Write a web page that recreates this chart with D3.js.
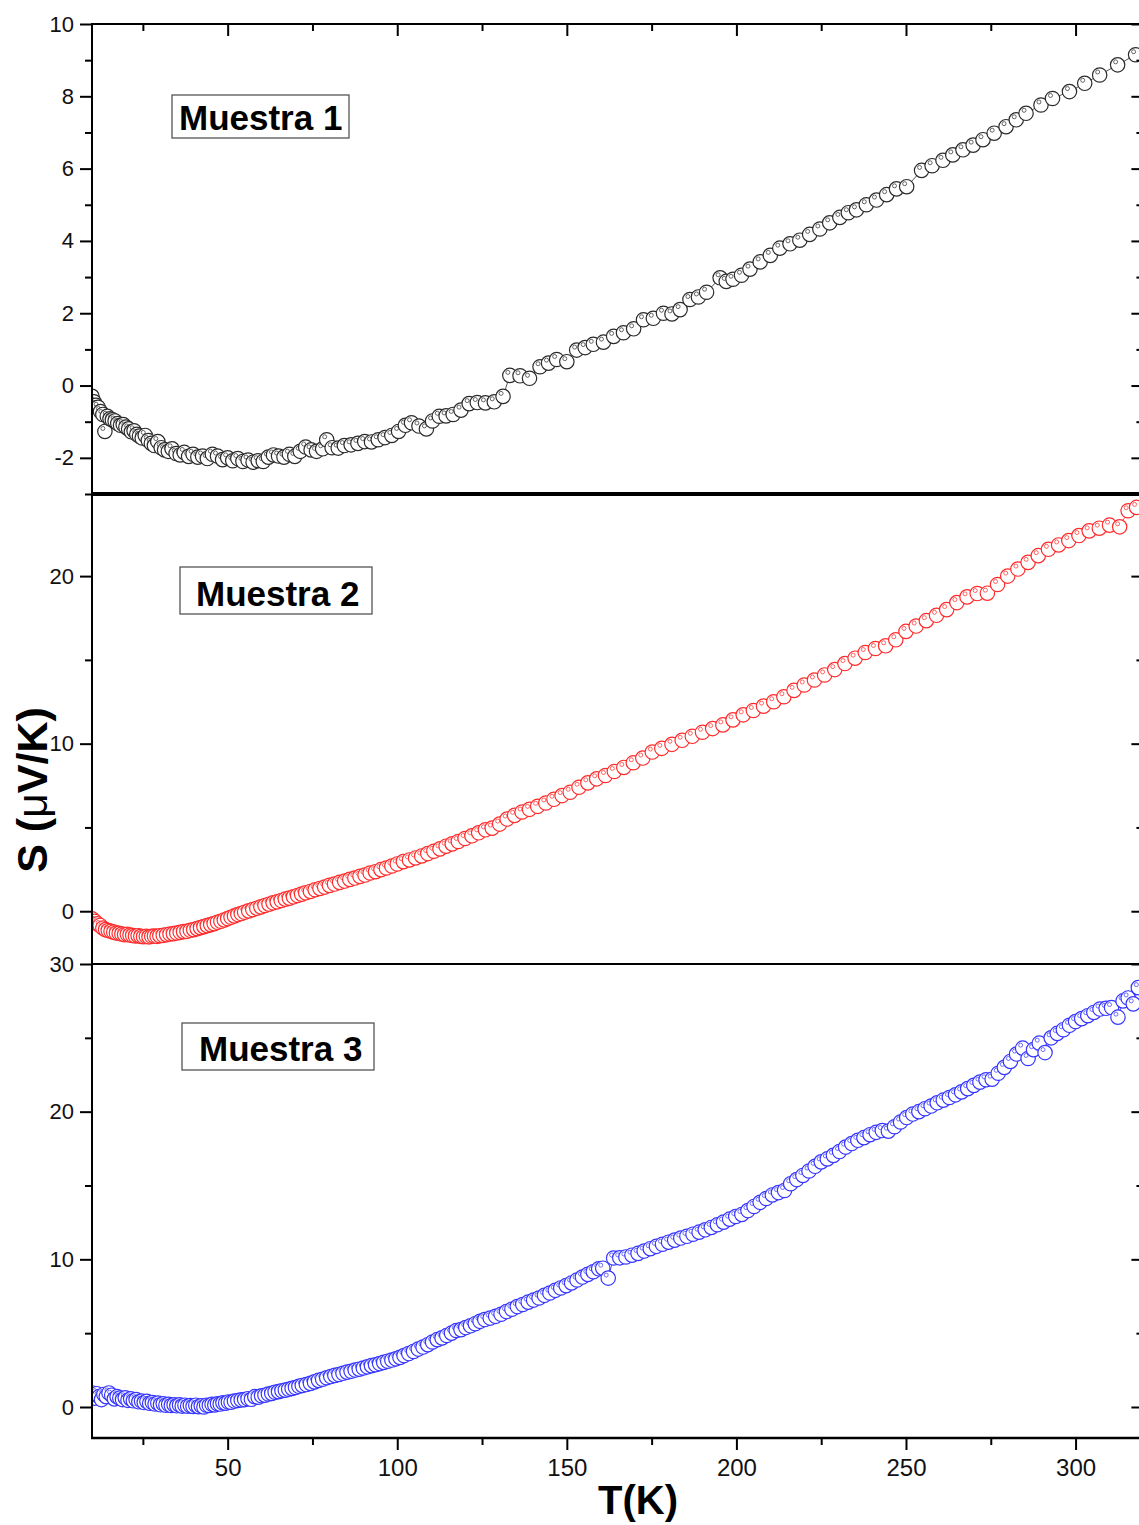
<!DOCTYPE html>
<meta charset="utf-8">
<style>
body { margin: 0; background: #fff; }
svg { display: block; }
text { font-family: "Liberation Sans", Arial, sans-serif; }
.axis path { display: none; }
.axis line { stroke: #000; stroke-width: 2px; }
.axis text { font-size: 22px; fill: #111; }
.frame { stroke: #000; fill: none; }
</style>
<body>
<script src="https://cdn.jsdelivr.net/npm/d3@7/dist/d3.min.js"></script>
<script>

// ---- data ----
var T1 = [10,10.6,11.2,11.8,12.5,13.2,13.8,14.5,15.3,16,16.8,17.6,18.4,19.2,20,20.8,21.6,22.4,23.2,24,
  24.8,25.7,26.6,27.5,28.4,29.4,30.4,31.4,32.5,33.6,34.8,36,37.2,38.5,39.8,41.2,42.6,44,45.5,47,
  48.5,50,51.5,53,54.5,56,57.5,59,60.5,62,63.5,65,66.6,68.2,69.8,71.4,73,74.6,76.2,78,
  79.2,80.8,82.6,84.4,86.4,88.4,90.4,92.4,94.4,96.4,98.4,100.4,102.4,104.2,106.4,108.6,110.4,112.4,114.4,116.5,
  118.8,121.2,123.6,126,128.6,131.2,
  133.2,136.2,139,142.1,144.6,147,150,152.9,155.4,157.8,160.8,163.8,166.7,169.7,172.6,175.5,178.5,181,183.4,186.3,
  188.8,191.2,195.2,197,199,201.5,204,207,210,212.8,215.8,218.7,221.6,224.6,227.5,230.5,233,235.4,238.3,241.3,
  244.3,247.2,250.2,254.6,257.7,260.9,263.8,266.8,269.8,272.7,276,279.5,282.5,285.4,289.8,293.2,298.2,302.7,307.1,312.4,
  317.7];
var S1 = [-0.3,-0.45,-0.55,-0.6,-0.72,-0.8,-1.27,-0.85,-0.92,-0.95,-0.98,-1.05,-1.1,-1.08,-1.15,-1.2,-1.28,-1.25,-1.35,-1.4,
  -1.45,-1.38,-1.52,-1.6,-1.66,-1.55,-1.72,-1.78,-1.82,-1.75,-1.88,-1.92,-1.85,-1.96,-1.9,-1.98,-1.95,-2.02,-1.9,-1.95,
  -2.05,-2.0,-2.08,-2.02,-2.1,-2.06,-2.12,-2.08,-2.1,-1.98,-1.92,-1.95,-1.98,-1.9,-1.96,-1.82,-1.7,-1.78,-1.82,-1.75,
  -1.5,-1.72,-1.73,-1.66,-1.64,-1.6,-1.55,-1.56,-1.5,-1.44,-1.38,-1.27,-1.1,-1.03,-1.12,-1.2,-0.98,-0.85,-0.84,-0.8,
  -0.68,-0.5,-0.47,-0.48,-0.45,-0.3,
  0.28,0.27,0.2,0.52,0.62,0.72,0.66,0.98,1.05,1.14,1.2,1.36,1.46,1.57,1.82,1.86,2.0,1.98,2.1,2.38,
  2.45,2.58,2.98,2.88,2.94,3.05,3.22,3.42,3.6,3.8,3.92,4.02,4.18,4.33,4.5,4.65,4.78,4.86,5.0,5.13,
  5.28,5.44,5.5,5.95,6.08,6.23,6.38,6.52,6.65,6.8,6.98,7.16,7.35,7.53,7.76,7.94,8.13,8.36,8.59,8.87,
  9.15];

var T2 = [10,10.8,11.6,12.4,13.2,14,14.8,15.6,16.4,17.2,18,18.8,19.6,20.4,21.2,22,22.8,23.6,24.4,25.2,
  26,26.8,27.6,28.4,29.2,30,31,32,33,34,35,36,37,38,39,40,41,42,43,44,
  45,46,47,48,49,50,51,52,53,54,55,56.2,57.4,58.6,59.8,61,62.2,63.4,64.6,65.8,
  67,68.2,69.4,70.6,71.8,73,74.4,75.8,77.2,78.6,80,81.5,83,84.5,86,87.5,89,90.5,92,93.6,
  95.2,96.8,98.4,100,101.8,103.6,105.4,107.2,109,110.8,112.6,114.4,116.2,118,120,122,124,126,128,130.2,
  132.4,134.6,136.8,139,141.4,143.8,146.2,148.6,151,153.6,156.2,158.8,161.4,164,166.8,169.6,172.4,175.2,178,181,
  184,187,190,193,196,199,202,205,208,211,214,217,220,223,226,229,232,235,238,241,
  244,247,250,253,256,259,262,265,268,271,274,277,280,283,286,289,292,295,298,301,
  304,307,310,313,315.5,318];
var S2 = [-0.45,-0.6,-0.75,-0.85,-1.0,-1.1,-1.15,-1.2,-1.25,-1.3,-1.32,-1.36,-1.4,-1.38,-1.42,-1.45,-1.48,-1.46,-1.5,-1.52,
  -1.5,-1.53,-1.5,-1.48,-1.5,-1.46,-1.44,-1.4,-1.36,-1.34,-1.3,-1.26,-1.22,-1.2,-1.14,-1.1,-1.04,-0.98,-0.92,-0.86,
  -0.8,-0.74,-0.66,-0.6,-0.52,-0.44,-0.36,-0.28,-0.2,-0.14,-0.06,0.02,0.1,0.18,0.26,0.34,0.42,0.5,0.56,0.64,
  0.72,0.78,0.86,0.94,1.02,1.1,1.18,1.28,1.36,1.44,1.54,1.62,1.72,1.8,1.9,1.98,2.08,2.16,2.28,2.36,
  2.48,2.58,2.7,2.82,2.96,3.06,3.18,3.3,3.44,3.58,3.72,3.88,4.02,4.16,4.34,4.5,4.68,4.86,4.96,5.2,
  5.5,5.72,5.92,6.08,6.26,6.46,6.68,6.9,7.1,7.4,7.66,7.9,8.1,8.34,8.58,8.86,9.14,9.5,9.72,9.96,
  10.2,10.44,10.68,10.9,11.12,11.42,11.72,11.98,12.24,12.5,12.8,13.18,13.5,13.8,14.1,14.42,14.78,15.1,15.44,15.68,
  15.84,16.2,16.7,17.02,17.34,17.66,18.0,18.42,18.76,18.96,18.98,19.5,20.0,20.42,20.82,21.22,21.6,21.86,22.12,22.42,
  22.7,22.86,23.04,22.94,23.9,24.1];

var T3 = [10,10.7,11.4,12.1,12.8,13.5,14.2,15,15.8,16.6,17.4,18.2,19,19.8,20.6,21.4,22.2,23,23.8,24.6,
  25.4,26.2,27,27.8,28.6,29.4,30.2,31,31.8,32.6,33.4,34.2,35,35.8,36.6,37.4,38.2,39,39.8,40.6,
  41.4,42.2,43,43.8,44.6,45.4,46.2,47,47.8,48.6,49.4,50.2,51,52,53,54,55,56,57,58,
  59,60,61,62,63,64,65,66,67,68,69,70,71,72,73.2,74.4,75.6,76.8,78,79.2,
  80.4,81.6,82.8,84,85.2,86.4,87.6,88.8,90,91.2,92.4,93.6,94.8,96,97.2,98.4,99.6,100.8,102,103.4,
  104.8,106.2,107.6,109,110.4,111.8,113.2,114.6,116,117.4,118.8,120.2,121.6,123,124.4,125.8,127.4,129,130.6,132.2,
  133.8,135.4,137,138.6,140.2,141.8,143.4,145,146.6,148.2,149.8,151.4,153,154.6,156.2,157.8,159.4,160.6,162.2,163.8,
  165.6,167.4,169.2,171,172.8,174.6,176.4,178.2,180,181.8,183.6,185.4,187.2,189,190.8,192.6,194.4,196.2,198,199.8,
  201.6,203.4,205.2,207,208.8,210.6,212.4,214.2,216,217.8,219.6,221.4,223.2,225,226.8,228.6,230.4,232.2,234,235.8,
  237.6,239.4,241.2,243,244.8,246.6,248.4,250.2,252,253.8,255.6,257.4,259.2,261,262.8,264.6,266.4,268.2,270,271.8,
  273.6,275.4,277.2,279,280.8,282.6,284.4,286,287.6,289.3,291,292.8,294.6,296.4,298.2,300,301.8,303.6,305.4,307.2,
  309,310.6,312.5,314,315.5,317,318.5];
var S3 = [0.95,0.6,0.9,0.7,0.5,0.85,0.7,0.95,0.8,0.55,0.7,0.6,0.5,0.62,0.45,0.55,0.42,0.5,0.35,0.4,
  0.3,0.38,0.25,0.3,0.2,0.26,0.15,0.22,0.12,0.18,0.1,0.15,0.08,0.14,0.06,0.12,0.05,0.1,0.04,0.12,
  0.02,0.08,0.0,0.12,0.1,0.18,0.14,0.22,0.2,0.28,0.26,0.34,0.32,0.4,0.44,0.48,0.5,0.56,0.52,0.7,
  0.66,0.76,0.8,0.88,0.92,1.0,1.04,1.1,1.14,1.2,1.26,1.32,1.4,1.46,1.52,1.6,1.7,1.8,1.88,1.98,
  2.06,2.14,2.2,2.28,2.36,2.42,2.5,2.56,2.64,2.72,2.8,2.86,2.94,3.02,3.1,3.18,3.26,3.36,3.48,3.62,
  3.76,3.92,4.06,4.22,4.4,4.56,4.68,4.84,5.0,5.18,5.24,5.38,5.5,5.64,5.8,5.92,6.02,6.14,6.28,6.46,
  6.62,6.8,6.94,7.1,7.24,7.38,7.56,7.72,7.9,8.06,8.22,8.4,8.6,8.8,8.98,9.16,9.36,9.4,8.73,10.09,
  10.1,10.16,10.28,10.4,10.56,10.72,10.88,11.02,11.16,11.3,11.44,11.56,11.7,11.84,12.0,12.16,12.34,12.52,12.72,12.9,
  13.04,13.3,13.58,13.86,14.12,14.36,14.52,14.66,15.12,15.4,15.68,15.98,16.3,16.6,16.8,17.04,17.3,17.6,17.84,18.06,
  18.24,18.44,18.6,18.72,18.68,18.98,19.3,19.6,19.84,20.0,20.2,20.38,20.6,20.78,20.96,21.14,21.34,21.56,21.78,22.0,
  22.16,22.2,22.6,23.0,23.4,23.9,24.3,23.6,24.2,24.64,24.0,25.0,25.3,25.55,25.85,26.1,26.3,26.5,26.72,26.95,
  27.0,27.05,26.4,27.5,27.7,27.3,28.4];

var sampleNames = ["Muestra 1", "Muestra 2", "Muestra 3"];
var xTicks = [50, 100, 150, 200, 250, 300];
var xMinor = [25, 75, 125, 175, 225, 275];
var y1Ticks = [-2, 0, 2, 4, 6, 8, 10], y1Minor = [-3, -1, 1, 3, 5, 7, 9];
var y2Ticks = [0, 10, 20], y2Minor = [5, 15];
var y3Ticks = [0, 10, 20, 30], y3Minor = [5, 15, 25];

// ---- layout ----
var W = 1139, H = 1525;
var left = 92, right = 1143.4;

var svg = d3.select("body").append("svg")
    .attr("width", W)
    .attr("height", H);

var x = d3.scaleLinear().domain([10, 320]).range([left, right]);

var panels = [
  {T: T1, S: S1, y: d3.scaleLinear().domain([-3, 10]).range([494, 24]),
   ticks: y1Ticks, minor: y1Minor, color: "#2a2a2a",
   box: [172, 95, 177, 43], tx: 179, ty: 130},
  {T: T2, S: S2, y: d3.scaleLinear().domain([-3.15, 24.9]).range([964, 494]),
   ticks: y2Ticks, minor: y2Minor, color: "#ff2a2a",
   box: [180, 567, 192, 47], tx: 196, ty: 606},
  {T: T3, S: S3, y: d3.scaleLinear().domain([-2.1, 30]).range([1438, 964]),
   ticks: y3Ticks, minor: y3Minor, color: "#3535ff",
   box: [182, 1023, 192, 47], tx: 199, ty: 1061}
];

panels.forEach(function(p, i) {
  var y = p.y;
  var pts = p.T.map(function(t, j) { return {t: t, s: p.S[j]}; });

  // clip to the panel
  var clipId = "clip" + i;
  svg.append("clipPath").attr("id", clipId)
    .append("rect")
      .attr("x", left).attr("y", y.range()[1])
      .attr("width", right - left).attr("height", y.range()[0] - y.range()[1]);

  var g = svg.append("g").attr("clip-path", "url(#" + clipId + ")");

  // thin connecting line (only visible in gaps)
  g.append("path")
      .datum(pts)
      .attr("fill", "none")
      .attr("stroke", p.color)
      .attr("stroke-width", 0.8)
      .attr("d", d3.line()
        .x(function(d) { return x(d.t); })
        .y(function(d) { return y(d.s); }));

  var m = g.selectAll(".pt").data(pts).enter().append("g")
      .attr("transform", function(d) { return "translate(" + x(d.t) + "," + y(d.s) + ")"; });
  m.append("circle")
      .attr("r", 7.2)
      .attr("fill", "#fff")
      .attr("stroke", p.color)
      .attr("stroke-width", 1.2);
  m.append("circle")
      .attr("cx", -2).attr("cy", -3)
      .attr("r", 2)
      .attr("fill", "none")
      .attr("stroke", p.color)
      .attr("stroke-width", 0.7);

  // left axis
  svg.append("g").attr("class", "axis")
      .attr("transform", "translate(" + left + ",0)")
      .call(d3.axisLeft(y).tickValues(p.ticks).tickSize(12).tickPadding(6)
        .tickFormat(function(d) { return String(d); }));
  svg.append("g").attr("class", "axis")
      .attr("transform", "translate(" + left + ",0)")
      .call(d3.axisLeft(y).tickValues(p.minor).tickSize(7).tickFormat(""));

  // right axis, ticks inward
  svg.append("g").attr("class", "axis")
      .attr("transform", "translate(" + right + ",0)")
      .call(d3.axisRight(y).tickValues(p.ticks).tickSize(-12).tickFormat(""));
  svg.append("g").attr("class", "axis")
      .attr("transform", "translate(" + right + ",0)")
      .call(d3.axisRight(y).tickValues(p.minor).tickSize(-7).tickFormat(""));

  // legend box
  svg.append("rect")
      .attr("x", p.box[0]).attr("y", p.box[1])
      .attr("width", p.box[2]).attr("height", p.box[3])
      .attr("fill", "#fff")
      .attr("stroke", "#555")
      .attr("stroke-width", 1.3);
  svg.append("text")
      .attr("x", p.tx).attr("y", p.ty)
      .style("font-size", "35px")
      .style("font-weight", "bold")
      .attr("fill", "#000")
      .text(sampleNames[i]);
});

// top axis of panel 1, ticks inward
svg.append("g").attr("class", "axis")
    .attr("transform", "translate(0,24)")
    .call(d3.axisTop(x).tickValues(xTicks).tickSize(-12).tickFormat(""));
svg.append("g").attr("class", "axis")
    .attr("transform", "translate(0,24)")
    .call(d3.axisTop(x).tickValues(xMinor).tickSize(-7).tickFormat(""));

// bottom axis of panel 3
var xAxis = svg.append("g").attr("class", "axis")
    .attr("transform", "translate(0,1438)")
    .call(d3.axisBottom(x).tickValues(xTicks).tickSize(12).tickPadding(9)
      .tickFormat(function(d) { return String(d); }));
xAxis.selectAll("text").style("font-size", "24px");
svg.append("g").attr("class", "axis")
    .attr("transform", "translate(0,1438)")
    .call(d3.axisBottom(x).tickValues(xMinor).tickSize(7).tickFormat(""));

// frame lines
function hline(yy, w) {
  svg.append("line").attr("class", "frame")
      .attr("x1", left - 1).attr("x2", right)
      .attr("y1", yy).attr("y2", yy)
      .attr("stroke-width", w);
}
hline(24, 2);
hline(494, 4);
hline(964, 2);
hline(1438, 2.5);
svg.append("line").attr("class", "frame")
    .attr("x1", left).attr("x2", left)
    .attr("y1", 23).attr("y2", 1439)
    .attr("stroke-width", 2);
svg.append("line").attr("class", "frame")
    .attr("x1", right).attr("x2", right)
    .attr("y1", 23).attr("y2", 1439)
    .attr("stroke-width", 2);

// axis titles
var yt = svg.append("text")
    .attr("transform", "translate(47,790) rotate(-90)")
    .attr("text-anchor", "middle")
    .style("font-size", "43px")
    .style("font-weight", "bold")
    .attr("fill", "#000");
yt.append("tspan").text("S (");
yt.append("tspan").style("font-weight", "normal").text("\u03bc");
yt.append("tspan").text("V/K)");

svg.append("text")
    .attr("x", 638)
    .attr("y", 1514)
    .attr("text-anchor", "middle")
    .style("font-size", "40px")
    .style("font-weight", "bold")
    .attr("fill", "#000")
    .text("T(K)");

</script>
</body>
